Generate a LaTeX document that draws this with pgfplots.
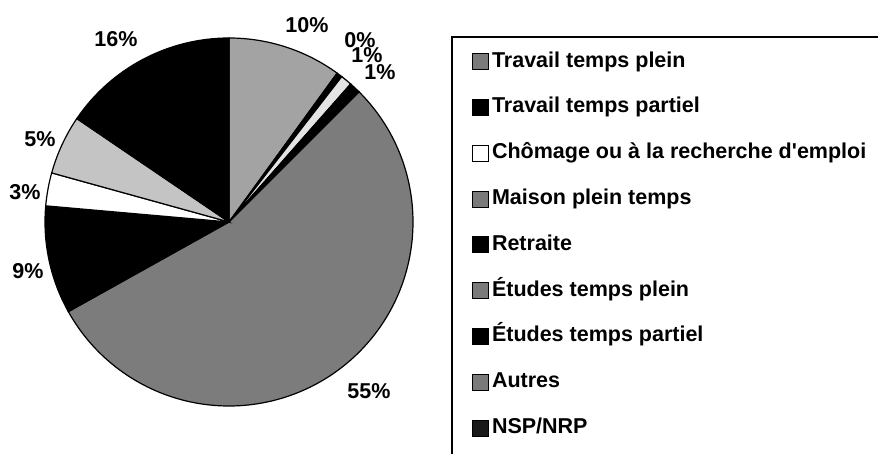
\documentclass[border=0pt]{standalone}
\usepackage{fontspec}
\setmainfont{Liberation Sans}
\usepackage{pgfplots}
\usepackage{pgfplotstable}
\pgfplotsset{compat=1.18}
\definecolor{sl0}{HTML}{A3A3A3}
\definecolor{sl1}{HTML}{000000}
\definecolor{sl2}{HTML}{E4E4E4}
\definecolor{sl3}{HTML}{000000}
\definecolor{sl4}{HTML}{7C7C7C}
\definecolor{sl5}{HTML}{000000}
\definecolor{sl6}{HTML}{FFFFFF}
\definecolor{sl7}{HTML}{C4C4C4}
\definecolor{sl8}{HTML}{000000}
\definecolor{lgray}{HTML}{7A7A7A}

% value = share of the pie, lbl = printed percentage, lx/ly = label position
\pgfplotstableread{
value lbl lx ly
10.0 10 307 429
0.5  0  360 414
1.0  1  367 399
1.0  1  380 382
54.4 55 369 63
9.5  9  28  183
2.9  3  25  262
5.2  5  40  315
15.5 16 116 415
}\piedata

\begin{document}
\begin{tikzpicture}
\def\cum{0}
\foreach \i in {0,...,8}{
  \pgfplotstablegetelem{\i}{value}\of\piedata
  \let\v\pgfplotsretval
  \pgfmathsetmacro\a{90-3.6*\cum}
  \pgfmathsetmacro\newcum{\cum+\v}
  \pgfmathsetmacro\b{90-3.6*\newcum}
  \expandafter\xdef\csname sa\i\endcsname{\a}
  \expandafter\xdef\csname sb\i\endcsname{\b}
  \xdef\cum{\newcum}
}
\clip (0,0) rectangle (878bp,454bp);
\begin{axis}[
  at={(0,0)}, anchor=south west,
  scale only axis, width=878bp, height=454bp,
  xmin=0, xmax=878, ymin=0, ymax=454,
  hide axis, clip=false,
  legend cell align=left,
  legend style={at={(axis description cs:0.5148,0.9185)}, anchor=north west,
    draw=none, fill=none,
    font=\fontsize{21.5bp}{24bp}\selectfont\bfseries,
    inner xsep=20bp, inner ysep=13bp, row sep=22.8bp, column sep=1bp,
    nodes={inner sep=2bp, text height=15bp, text depth=4bp}},
  legend image code/.code={\draw[#1, line width=0.8bp] (0bp,-8bp) rectangle (16bp,8bp);},
]
\pgfplotsinvokeforeach{0,...,8}{
  \fill[sl#1, draw=black, line width=1.2bp] (axis cs:229,232) -- ++(\csname sa#1\endcsname:184bp)
     arc[start angle=\csname sa#1\endcsname, end angle=\csname sb#1\endcsname, radius=184bp] -- cycle;
}
\draw[line width=1.6bp] (axis cs:452,-20) -- (axis cs:452,417) -- (axis cs:900,417);
\addplot[forget plot, only marks, mark=none, point meta=explicit symbolic,
  nodes near coords={\pgfplotspointmeta\%},
  nodes near coords style={anchor=center, inner sep=0pt, font=\fontsize{21.5bp}{24bp}\selectfont\bfseries}]
  table[x=lx, y=ly, meta=lbl] {\piedata};
\addlegendimage{fill=lgray}\addlegendentry{Travail temps plein}
\addlegendimage{fill=black}\addlegendentry{Travail temps partiel}
\addlegendimage{fill=white}\addlegendentry{Chômage ou à la recherche d\textquotesingle emploi}
\addlegendimage{fill=lgray}\addlegendentry{Maison plein temps}
\addlegendimage{fill=black}\addlegendentry{Retraite}
\addlegendimage{fill=lgray}\addlegendentry{Études temps plein}
\addlegendimage{fill=black}\addlegendentry{Études temps partiel}
\addlegendimage{fill=lgray}\addlegendentry{Autres}
\addlegendimage{fill=black!90}\addlegendentry{NSP/NRP}
\end{axis}
\end{tikzpicture}
\end{document}
